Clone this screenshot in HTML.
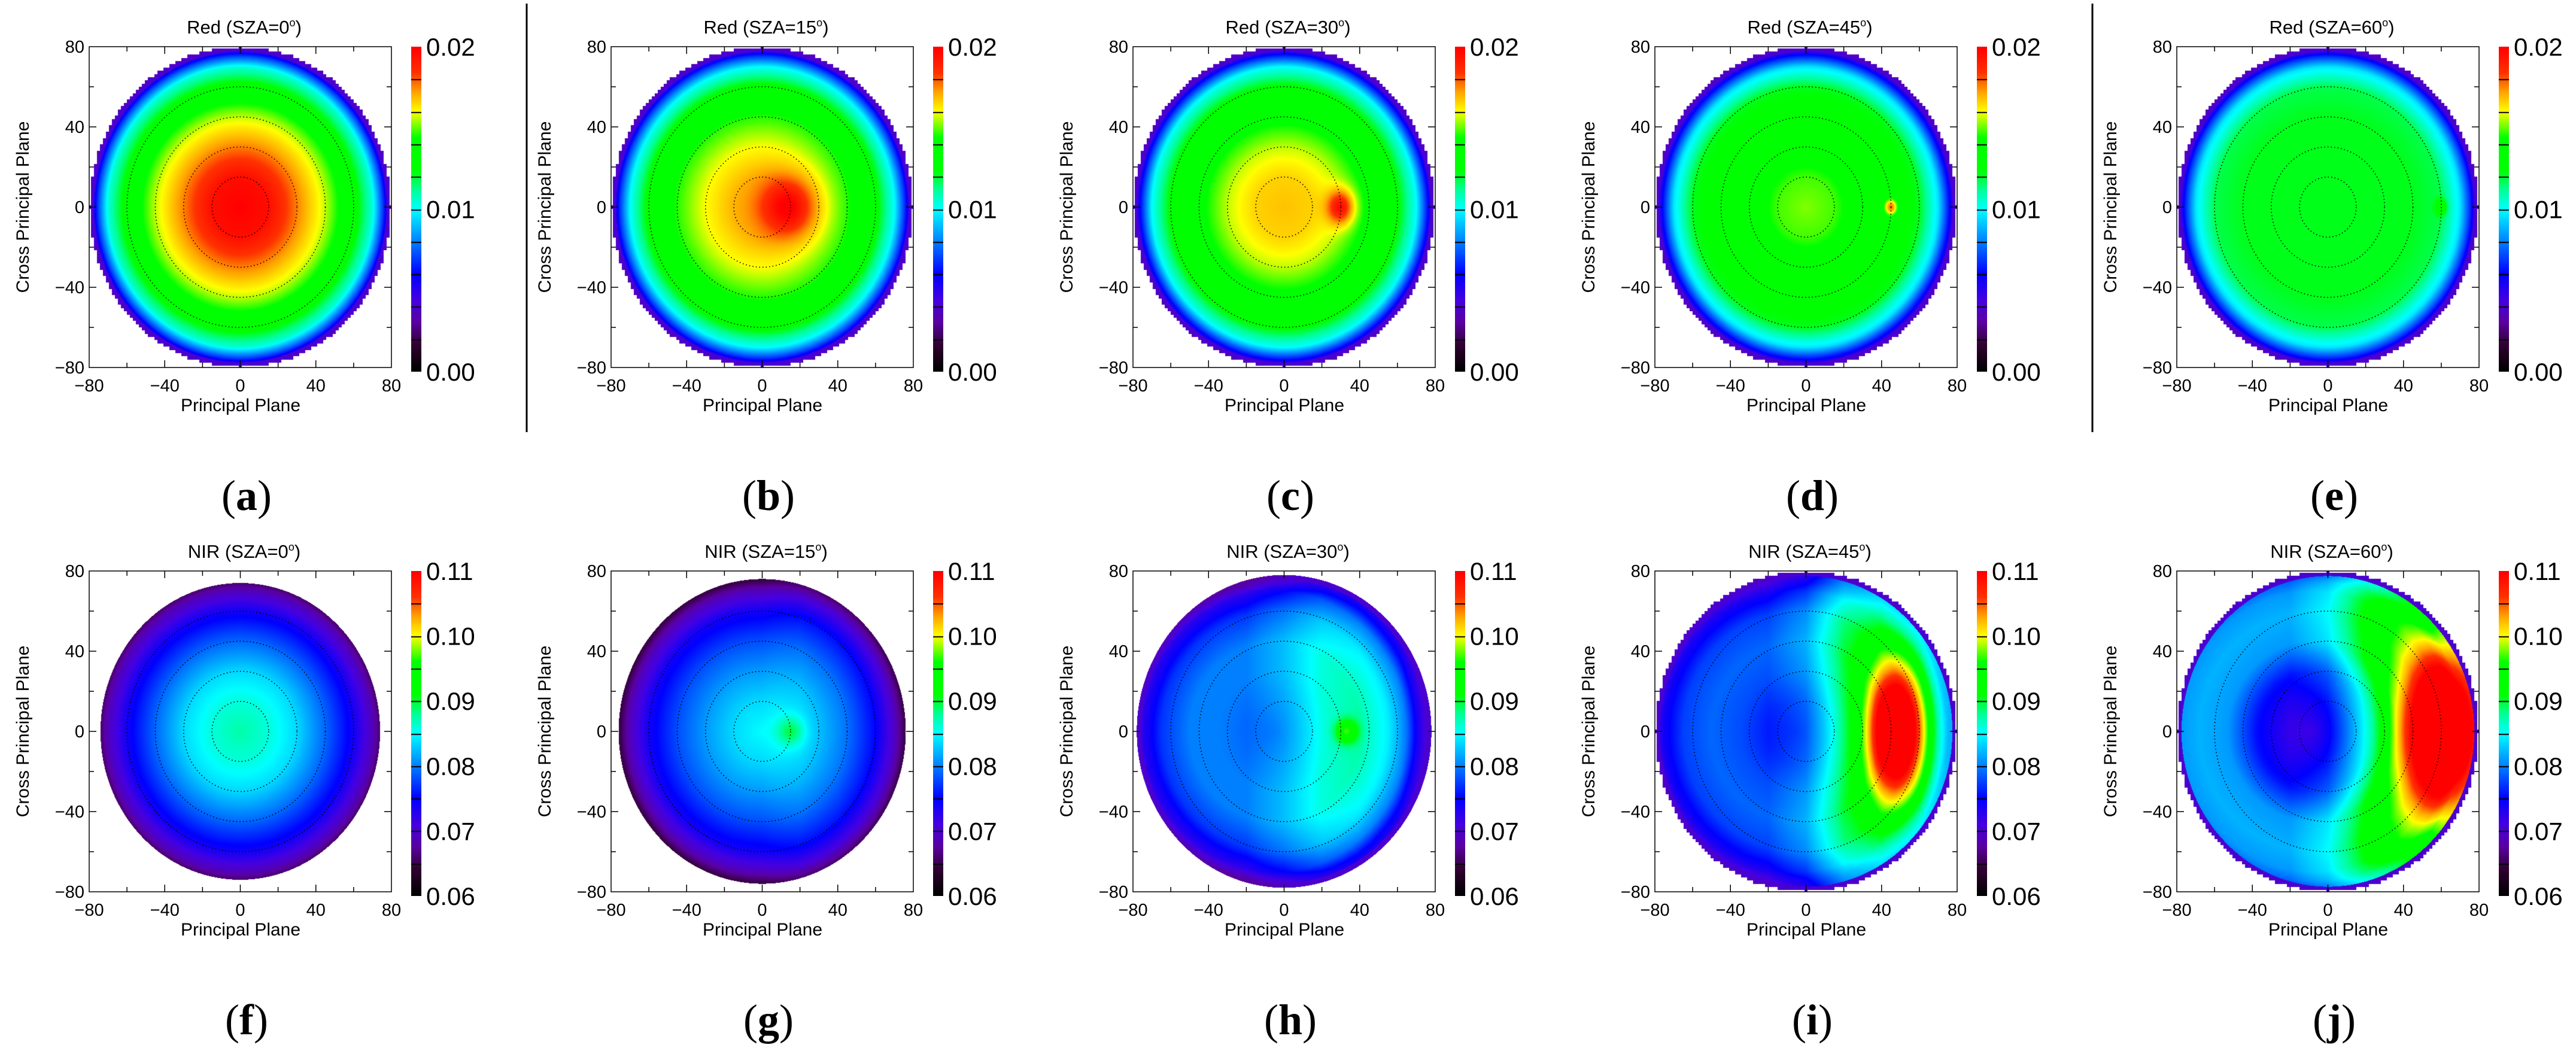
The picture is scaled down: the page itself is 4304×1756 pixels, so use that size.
<!DOCTYPE html>
<html><head><meta charset="utf-8">
<style>
html,body{margin:0;padding:0;background:#fff;}
#root{position:relative;width:4304px;height:1756px;overflow:hidden;background:#fff;}
canvas{position:absolute;}
svg{position:absolute;left:0;top:0;}
</style></head>
<body>
<div id="root">
<svg id="svg" width="4304" height="1756"></svg>
</div>
<script>
// ---- data arrays ----
const panelTitles = ["Red (SZA=0","Red (SZA=15","Red (SZA=30","Red (SZA=45","Red (SZA=60",
                     "NIR (SZA=0","NIR (SZA=15","NIR (SZA=30","NIR (SZA=45","NIR (SZA=60"];
const panelLetters = ["a","b","c","d","e","f","g","h","i","j"];
const redCbLabels = ["0.00","0.01","0.02"];
const nirCbLabels = ["0.06","0.07","0.08","0.09","0.10","0.11"];
const axisTicks = [-80,-40,0,40,80];
const ringRadii = [15,30,45,60];
const profileRadii = [0,15,30,45,60,70,75,80];
// normalized colour-scale value at each profile radius
const radialProfiles = [
 [1.00,0.98,0.88,0.78,0.65,0.52,0.36,0.18],
 [0.86,0.85,0.80,0.73,0.64,0.50,0.35,0.18],
 [0.84,0.83,0.78,0.70,0.63,0.50,0.34,0.18],
 [0.76,0.74,0.68,0.64,0.61,0.48,0.33,0.18],
 [0.61,0.61,0.61,0.61,0.59,0.48,0.34,0.18],
 [0.55,0.52,0.47,0.38,0.28,0.18,0.10,0.05],
 [0.50,0.47,0.42,0.36,0.28,0.18,0.10,0.05],
 [0.36,0.38,0.40,0.40,0.34,0.25,0.16,0.10],
 [0.30,0.32,0.36,0.38,0.35,0.28,0.22,0.17],
 [0.20,0.25,0.31,0.42,0.44,0.42,0.38,0.30]
];
const lateralX = [-80,-60,-40,-20,0,20,40,60,80];
const lateralProfiles = [
 [0,0,0,0,0,0,0,0,0],[0,0,0,0,0,0,0,0,0],[0,0,0,0,0,0,0,0,0],[0,0,0,0,0,0,0,0,0],[0,0,0,0,0,0,0,0,0],
 [0,0,0,0,0,0,0,0,0],
 [0,0,0,0,0,0.03,0.03,0.02,0],
 [0,0,0,0,0.05,0.12,0.15,0.15,0.1],
 [0,0,0,0,0.06,0.22,0.30,0.30,0.25],
 [0,0,0,0,0.06,0.20,0.30,0.35,0.35]
];
// hotspot: x0, y0, sigmaX, sigmaY, amplitude
const hotspots = [
 [0,0,1,1,0],[14,0,10,10,0.16],[30,0,5,6,0.2],[45,0,2.5,3,0.25],[60,0,2,2.5,0.12],
 [0,0,1,1,0],[15,0,5,5,0.1],[33,0,4,4,0.2],[48,0,10,22,0.6],[62,0,14,26,0.6]
];
const rimRadius = [80,80,80,80,80,74,76,78,80,80];
const radialCenterX = [0,0,0,0,0,0,0,-5,-5,-8];

// ---- colormap ----
const cmStops=[[0,0,0,0],[0.08,48,0,48],[0.15,90,0,160],[0.22,70,0,225],[0.3,0,0,255],[0.4,0,128,255],
 [0.5,0,255,255],[0.56,0,255,150],[0.62,0,255,0],[0.72,0,255,0],[0.8,255,255,0],[0.86,255,165,0],[0.92,255,50,0],[1,255,0,0]];
function cmap(t){t=Math.max(0,Math.min(1,t));for(let i=1;i<cmStops.length;i++){if(t<=cmStops[i][0]){const a=cmStops[i-1],b=cmStops[i];const f=(t-a[0])/(b[0]-a[0]);return [a[1]+(b[1]-a[1])*f,a[2]+(b[2]-a[2])*f,a[3]+(b[3]-a[3])*f];}}return [255,0,0];}
function interp(xs,ys,x){if(x<=xs[0])return ys[0];for(let i=1;i<xs.length;i++){if(x<=xs[i]){const f=(x-xs[i-1])/(xs[i]-xs[i-1]);return ys[i-1]+(ys[i]-ys[i-1])*f;}}return ys[ys.length-1];}

const svg=document.getElementById('svg');const root=document.getElementById('root');
const NS="http://www.w3.org/2000/svg";
function el(tag,attrs,parent){const e=document.createElementNS(NS,tag);for(const k in attrs)e.setAttribute(k,attrs[k]);(parent||svg).appendChild(e);return e;}

const PW=505,PH=536,COLW=872,ROWH=876;
function sx(ox,v){return ox+149+(v+80)/160*PW;}
function sy(oy,v){return oy+78+(80-v)/160*PH;}

for(let p=0;p<10;p++){
  const c=p%5,row=Math.floor(p/5);
  const ox=c*COLW,oy=row*ROWH;
  const g=el('g',{});
  
  
  const cv=document.createElement('canvas');
  cv.width=PW;cv.height=PH;cv.style.left=(ox+149)+'px';cv.style.top=(oy+78)+'px';
  
  
  root.insertBefore(cv,svg);
  const ctx=cv.getContext('2d');const img=ctx.createImageData(PW,PH);
  const R=rimRadius[p],prof=radialProfiles[p],lat=lateralProfiles[p],hs=hotspots[p],cx0=radialCenterX[p];
  const jag=(p<5||p>=8);
  for(let j=0;j<PH;j++){const y=80-(j+0.5)/PH*160;
    for(let i=0;i<PW;i++){const x=-80+(i+0.5)/PW*160;
      let mx=x,my=y;if(jag){mx=Math.round(x/1.6)*1.6;my=Math.round(y/1.6)*1.6;}
      const idx=(j*PW+i)*4;
      if(Math.hypot(mx,my)>R){img.data[idx]=255;img.data[idx+1]=255;img.data[idx+2]=255;img.data[idx+3]=255;continue;}
      const r=Math.hypot(x-cx0,y);
      let t=interp(profileRadii,prof,r)+interp(lateralX,lat,x);
      const dx=(x-hs[0])/hs[2],dy=(y-hs[1])/hs[3];t+=hs[4]*Math.exp(-0.5*(dx*dx+dy*dy));
      const rr=Math.hypot(x,y);if(rr>R-2.5)t=Math.min(t,0.2);
      const col=cmap(t);img.data[idx]=col[0];img.data[idx+1]=col[1];img.data[idx+2]=col[2];img.data[idx+3]=255;}}
  ctx.putImageData(img,0,0);
  ringRadii.forEach(rv=>{const ring=el('ellipse',{cx:sx(ox,0),cy:sy(oy,0),rx:rv/160*PW,ry:rv/160*PH,fill:'none',stroke:'#000','stroke-width':1.6,'stroke-dasharray':'1.6 4'},g);
    });
  const fr=el('rect',{x:ox+149,y:oy+78,width:PW,height:PH,fill:'none',stroke:'#000','stroke-width':1.5},g);
  
  for(let v=-60;v<=60;v+=20){const L=(v%40===0)?12:8;
    el('line',{x1:sx(ox,v),x2:sx(ox,v),y1:oy+78+PH,y2:oy+78+PH-L,stroke:'#000','stroke-width':1.5},g);
    el('line',{x1:sx(ox,v),x2:sx(ox,v),y1:oy+78,y2:oy+78+L,stroke:'#000','stroke-width':1.5},g);
    el('line',{x1:ox+149,x2:ox+149+L,y1:sy(oy,v),y2:sy(oy,v),stroke:'#000','stroke-width':1.5},g);
    el('line',{x1:ox+149+PW,x2:ox+149+PW-L,y1:sy(oy,v),y2:sy(oy,v),stroke:'#000','stroke-width':1.5},g);}
  axisTicks.forEach(v=>{
    const tx=el('text',{x:sx(ox,v),y:oy+78+PH+40,'text-anchor':'middle','font-family':'Liberation Sans, sans-serif','font-size':29},g);
    tx.textContent=(v<0?'\u2212':'')+Math.abs(v);
    const ty=el('text',{x:ox+141,y:sy(oy,v)+10,'text-anchor':'end','font-family':'Liberation Sans, sans-serif','font-size':29},g);
    ty.textContent=(v<0?'\u2212':'')+Math.abs(v);});
  const xt=el('text',{x:ox+402,y:oy+687,'text-anchor':'middle','font-family':'Liberation Sans, sans-serif','font-size':30},g);
  xt.textContent='Principal Plane';
  const yt=el('text',{x:0,y:0,'text-anchor':'middle','font-family':'Liberation Sans, sans-serif','font-size':30,transform:`translate(${ox+48},${oy+346}) rotate(-90)`},g);
  yt.textContent='Cross Principal Plane';
  const tt=el('text',{x:ox+408,y:oy+56,'text-anchor':'middle','font-family':'Liberation Sans, sans-serif','font-size':31},g);
  tt.innerHTML=panelTitles[p]+'<tspan dy="-12" font-size="18">o</tspan><tspan dy="12">)</tspan>';
  
  const cbx=ox+687,cby=oy+78,cbh=543,cbw=17;
  const cbc=document.createElement('canvas');cbc.width=cbw;cbc.height=cbh;cbc.style.left=cbx+'px';cbc.style.top=cby+'px';
  
  root.insertBefore(cbc,svg);
  const cctx=cbc.getContext('2d');
  for(let j=0;j<cbh;j++){const col=cmap(1-j/(cbh-1));cctx.fillStyle=`rgb(${col[0]|0},${col[1]|0},${col[2]|0})`;cctx.fillRect(0,j,cbw,1);}
  cctx.fillStyle='#000';for(let k=1;k<10;k++){cctx.fillRect(0,Math.round(k*cbh/10),cbw,2);}
  const labs=row===0?redCbLabels:nirCbLabels;
  labs.forEach((s,k)=>{const yy=cby+cbh-k/(labs.length-1)*cbh;
    const t=el('text',{x:cbx+25,y:yy+15,'font-family':'Liberation Sans, sans-serif','font-size':42},g);
    t.textContent=s;});
  const lt=el('text',{x:ox+412,y:oy+852,'text-anchor':'middle','font-family':'Liberation Serif, serif','font-size':72},g);
  lt.innerHTML='(<tspan font-weight="bold">'+panelLetters[p]+'</tspan>)';
  
}
[880,880+3*COLW].forEach(x=>{const l=el('line',{x1:x,x2:x,y1:6,y2:722,stroke:'#000','stroke-width':3});
  });
</script>
</body></html>
